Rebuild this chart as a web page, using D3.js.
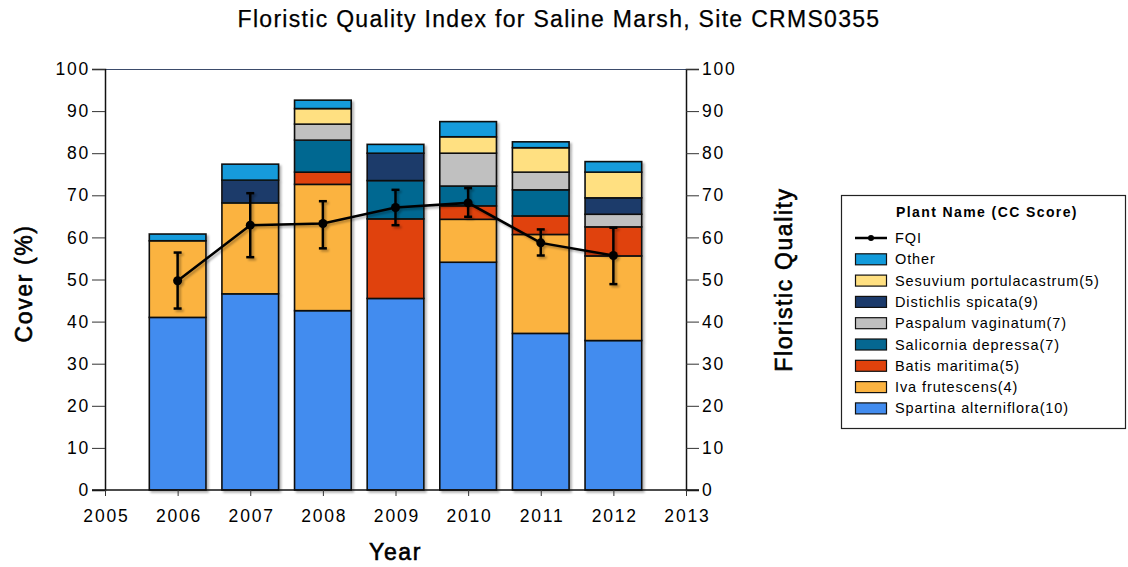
<!DOCTYPE html>
<html>
<head>
<meta charset="utf-8">
<script src="https://cdn.jsdelivr.net/npm/d3@7"></script>
<style>
  html, body { margin: 0; padding: 0; background: #fff; }
  svg { display: block; font-family: "Liberation Sans", Arial, Helvetica, sans-serif; }
</style>
</head>
<body>
<svg id="chart" width="1128" height="567"></svg>
<script>
// Survey years
const years = [2006, 2007, 2008, 2009, 2010, 2011, 2012];

// Percent cover per species (stacked bottom to top)
const spartina   = [41.0, 46.6, 42.6, 45.5, 54.1, 37.2, 35.5];
const iva        = [18.2, 21.6, 30.0,  0.0, 10.2, 23.5, 20.1];
const batis      = [ 0.0,  0.0,  2.9, 18.9,  3.2,  4.4,  6.9];
const salicornia = [ 0.0,  0.0,  7.6,  9.1,  4.7,  6.2,  0.0];
const paspalum   = [ 0.0,  0.0,  3.8,  0.0,  7.8,  4.2,  3.0];
const distichlis = [ 0.0,  5.4,  0.0,  6.5,  0.0,  0.0,  3.9];
const sesuvium   = [ 0.0,  0.0,  3.7,  0.0,  3.9,  5.8,  6.1];
const other      = [ 1.6,  3.8,  2.0,  2.1,  3.6,  1.4,  2.5];

// Floristic Quality Index with error range
const fqi    = [49.7, 62.9, 63.3, 67.1, 68.2, 58.7, 55.7];
const fqiLow = [43.1, 55.3, 57.4, 62.9, 64.9, 55.7, 48.9];
const fqiHigh= [56.4, 70.5, 68.6, 71.3, 71.7, 61.9, 62.3];

const xTicks = [2005, 2006, 2007, 2008, 2009, 2010, 2011, 2012, 2013];
const yTicks = [0, 10, 20, 30, 40, 50, 60, 70, 80, 90, 100];

const species = [
  { name: "Spartina alterniflora(10)", values: spartina,   color: "#428cef" },
  { name: "Iva frutescens(4)",         values: iva,        color: "#fbb341" },
  { name: "Batis maritima(5)",         values: batis,      color: "#e0420c" },
  { name: "Salicornia depressa(7)",    values: salicornia, color: "#056791" },
  { name: "Paspalum vaginatum(7)",     values: paspalum,   color: "#c0c0c0" },
  { name: "Distichlis spicata(9)",     values: distichlis, color: "#1b3a6b" },
  { name: "Sesuvium portulacastrum(5)",values: sesuvium,   color: "#ffe081" },
  { name: "Other",                     values: other,      color: "#129bdb" }
];

const svg = d3.select("#chart");
const margin = { left: 105, right: 686, top: 69, bottom: 490 };

const x = d3.scaleLinear().domain([2005, 2013]).range([margin.left, margin.right]);
const y = d3.scaleLinear().domain([0, 100]).range([margin.bottom, margin.top]);

const defs = svg.append("defs");
const shadow = defs.append("filter").attr("id", "shadow")
  .attr("x", "-20%").attr("y", "-20%").attr("width", "140%").attr("height", "140%");
shadow.append("feDropShadow").attr("dx", 2).attr("dy", 2).attr("stdDeviation", 1)
  .attr("flood-color", "#000").attr("flood-opacity", 0.3);

// Title
svg.append("text")
  .attr("x", 559).attr("y", 27)
  .attr("text-anchor", "middle")
  .attr("font-size", 23)
  .attr("letter-spacing", 1.3)
  .attr("stroke", "#000").attr("stroke-width", 0.25)
  .text("Floristic Quality Index for Saline Marsh, Site CRMS0355");

// Top frame line
svg.append("line")
  .attr("x1", margin.left).attr("x2", margin.right)
  .attr("y1", margin.top + 0.5).attr("y2", margin.top + 0.5)
  .attr("stroke", "#3b4b6b").attr("stroke-width", 1);

// Stacked bars
const stackData = years.map((yr, i) => {
  const row = { year: yr };
  species.forEach(s => { row[s.name] = s.values[i]; });
  return row;
});
const stack = d3.stack().keys(species.map(s => s.name));
const layers = stack(stackData);
const halfW = 0.39;

const barG = svg.append("g").attr("filter", "url(#shadow)");
layers.forEach((layer, li) => {
  barG.append("g")
    .selectAll("rect")
    .data(layer.filter(d => d[1] - d[0] > 0))
    .join("rect")
    .attr("x", d => x(d.data.year - halfW))
    .attr("width", d => x(d.data.year + halfW) - x(d.data.year - halfW))
    .attr("y", d => y(d[1]))
    .attr("height", d => y(d[0]) - y(d[1]))
    .attr("fill", species[li].color)
    .attr("stroke", "#111")
    .attr("stroke-width", 1.6);
});

// Left axis
const leftAxis = svg.append("g")
  .attr("transform", `translate(${margin.left},0)`)
  .call(d3.axisLeft(y).tickValues(yTicks).tickSize(13).tickPadding(2));
// Right axis
const rightAxis = svg.append("g")
  .attr("transform", `translate(${margin.right},0)`)
  .call(d3.axisRight(y).tickValues(yTicks).tickSize(13).tickPadding(3));
// Bottom axis
const bottomAxis = svg.append("g")
  .attr("transform", `translate(0,${margin.bottom})`)
  .call(d3.axisBottom(x).tickValues(xTicks).tickFormat(d3.format("d")).tickSize(6).tickPadding(14));

[leftAxis, rightAxis, bottomAxis].forEach(g => {
  g.select(".domain").attr("stroke", "#111").attr("stroke-width", 1.5);
  g.selectAll(".tick line").attr("stroke", "#333");
  g.selectAll(".tick text").attr("font-size", 17.5).attr("fill", "#000")
    .attr("letter-spacing", 1.8)
    .attr("font-family", "'Liberation Sans', Arial, sans-serif");
});
bottomAxis.selectAll(".tick text").attr("dx", "0.9");
bottomAxis.select(".domain").attr("d", `M${margin.left - 13},0H${margin.right + 13}`);

// Axis titles
const axisTitle = (sel) => sel
  .attr("text-anchor", "middle").attr("font-size", 23)
  .attr("letter-spacing", 1.6)
  .attr("stroke", "#000").attr("stroke-width", 0.6);
svg.append("text")
  .attr("transform", `translate(32,${(margin.top + margin.bottom) / 2 + 4}) rotate(-90)`)
  .call(axisTitle).text("Cover (%)");
svg.append("text")
  .attr("transform", `translate(792,${(margin.top + margin.bottom) / 2}) rotate(-90)`)
  .call(axisTitle).text("Floristic Quality");
svg.append("text")
  .attr("x", (margin.left + margin.right) / 2).attr("y", 560)
  .call(axisTitle).text("Year");

// FQI line, error bars and points
const fqiG = svg.append("g").attr("filter", "url(#shadow)");
const line = d3.line().x((d, i) => x(years[i])).y(d => y(d));
fqiG.append("path").datum(fqi)
  .attr("d", line).attr("fill", "none")
  .attr("stroke", "#000").attr("stroke-width", 2.5);
years.forEach((yr, i) => {
  const cx = x(yr);
  fqiG.append("line").attr("x1", cx).attr("x2", cx)
    .attr("y1", y(fqiLow[i])).attr("y2", y(fqiHigh[i]))
    .attr("stroke", "#000").attr("stroke-width", 2.5);
  [fqiLow[i], fqiHigh[i]].forEach(v => {
    fqiG.append("line").attr("x1", cx - 4).attr("x2", cx + 4)
      .attr("y1", y(v)).attr("y2", y(v))
      .attr("stroke", "#000").attr("stroke-width", 2.5);
  });
  fqiG.append("circle").attr("cx", cx).attr("cy", y(fqi[i])).attr("r", 4.5).attr("fill", "#000");
});

// Legend
const lg = svg.append("g");
lg.append("rect")
  .attr("x", 841.5).attr("y", 195.5).attr("width", 284).attr("height", 233)
  .attr("fill", "#fff").attr("stroke", "#222").attr("stroke-width", 1.2);
lg.append("text")
  .attr("x", 987).attr("y", 217)
  .attr("text-anchor", "middle").attr("font-size", 14).attr("font-weight", "bold")
  .attr("letter-spacing", 1.4)
  .text("Plant Name (CC Score)");

const legendItems = [{ name: "FQI", line: true }].concat(species.slice().reverse());
legendItems.forEach((item, i) => {
  const cy = 238 + i * 21.3;
  if (item.line) {
    lg.append("line").attr("x1", 855).attr("x2", 887).attr("y1", cy).attr("y2", cy)
      .attr("stroke", "#000").attr("stroke-width", 2.5);
    lg.append("circle").attr("cx", 871).attr("cy", cy).attr("r", 3).attr("fill", "#000");
  } else {
    lg.append("rect").attr("x", 855.5).attr("y", cy - 5.5).attr("width", 31).attr("height", 11)
      .attr("fill", item.color).attr("stroke", "#111").attr("stroke-width", 1.2);
  }
  lg.append("text").attr("x", 895).attr("y", cy + 5)
    .attr("font-size", 14.5).attr("letter-spacing", 0.9).text(item.name);
});
</script>
</body>
</html>
